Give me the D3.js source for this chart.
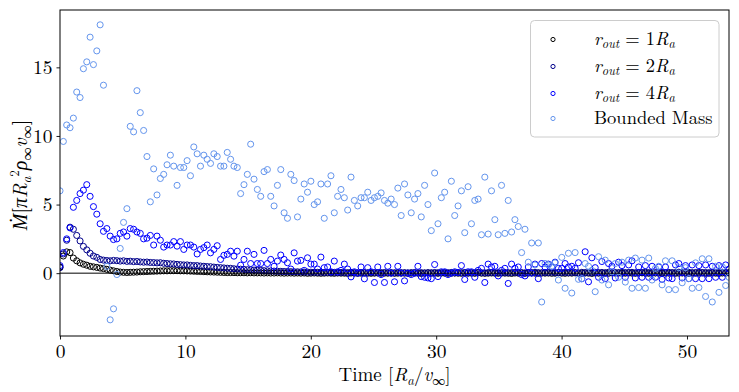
<!DOCTYPE html>
<html><head><meta charset="utf-8">
<script src="https://cdnjs.cloudflare.com/ajax/libs/d3/7.8.5/d3.min.js"></script>
<style>html,body{margin:0;padding:0;background:#fff;} svg{display:block;}</style>
</head><body><svg id="c" width="739" height="392"></svg>
<script>
// ---------- data ----------
const tMax = 53.35;
const nSamples = 201;
const xTicks = [0, 10, 20, 30, 40, 50];
const yTicks = [0, 5, 10, 15];
const seriesLabels = ["r_out = 1R_a", "r_out = 2R_a", "r_out = 4R_a", "Bounded Mass"];
const seriesColors = ["#000000", "#00008b", "#0000ff", "#6495ed"];

const rOut1 = [
0.45,1.25,1.55,1.5,1.1,0.9,0.75,0.65,0.58,0.5,
0.46,0.42,0.37,0.33,0.28,0.22,0.17,0.12,0.08,0.06,
0.05,0.06,0.07,0.08,0.1,0.11,0.12,0.13,0.14,0.15,
0.16,0.17,0.17,0.18,0.18,0.18,0.17,0.17,0.16,0.15,
0.14,0.13,0.12,0.11,0.1,0.09,0.08,0.07,0.06,0.05,
0.04,
0.04,0.04,0.03,0.03,0.03,0.02,0.03,0.02,0.02,0.02,
0.01,0.02,0.01,0.01,0.02,0.01,0.00,0.01,0.01,0.00,
0.01,0.00,0.01,-0.01,0.00,0.01,0.00,-0.01,0.00,0.01,
0.00,-0.01,0.01,0.00,0.00,-0.02,0.01,0.00,-0.01,0.00,
0.01,0.00,-0.01,0.00,0.01,-0.01,0.00,0.00,0.01,-0.01,
0.00,0.01,0.00,-0.01,0.00,0.01,0.00,-0.02,0.00,0.01,
0.00,0.00,-0.01,0.01,0.00,-0.01,0.00,0.01,0.00,-0.01,
0.01,0.00,0.00,-0.01,0.02,0.00,-0.01,0.00,0.01,0.00,
-0.01,0.01,0.00,0.00,-0.02,0.01,0.00,0.01,-0.01,0.00,
0.02,0.00,-0.01,0.01,0.00,0.01,-0.01,0.00,0.02,0.00,
-0.01,0.01,0.00,0.02,-0.01,0.00,0.01,0.00,-0.02,0.01,
0.00,0.01,0.00,-0.01,0.02,0.00,0.01,-0.01,0.00,0.01,
0.00,-0.01,0.01,0.02,0.00,-0.01,0.00,0.01,0.00,-0.01,
0.01,0.00,0.02,-0.01,0.00,0.01,0.00,-0.01,0.01,0.00,
0.00,0.02,-0.01,0.00,0.01,0.00,-0.02,0.01,0.00,0.01
];

const rOut2 = [
0.4,1.4,2.4,3.35,3.2,2.75,2.35,1.95,1.7,1.45,
1.25,1.15,1.0,0.95,0.92,0.9,0.93,0.91,0.88,0.9,
0.86,0.87,0.84,0.85,0.82,0.8,0.81,0.78,0.77,0.75,
0.76,0.72,0.7,0.68,0.67,0.64,0.62,0.6,0.6,0.57,
0.55,0.55,0.52,0.5,0.48,0.47,0.44,0.42,0.4,0.38,
0.36,0.35,0.32,0.3,0.29,0.27,0.25,0.24,0.22,0.21,
0.2,0.18,0.17,0.16,0.15,0.14,0.13,0.12,0.12,0.11,
0.1,0.1,0.09,0.08,0.08,0.07,
0.07,0.06,0.07,0.05,0.06,
0.05,0.06,0.04,0.05,0.05,0.04,0.06,0.04,0.03,0.05,
0.04,0.03,0.05,0.04,0.03,0.04,0.05,0.03,0.04,0.03,
0.05,0.03,0.04,0.02,0.04,0.05,0.03,0.04,0.02,0.04,
0.03,0.05,0.03,0.02,0.04,0.03,0.05,0.02,0.03,0.04,
0.05,0.02,0.04,0.03,0.06,0.03,0.02,0.04,0.05,0.03,
0.04,0.02,0.05,0.03,0.04,0.06,0.03,0.04,0.02,0.05,
0.03,0.06,0.04,0.02,0.05,0.04,0.07,0.03,0.05,0.04,
0.06,0.03,0.05,0.04,0.02,0.06,0.04,0.05,0.03,0.06,
0.04,0.05,0.03,0.07,0.04,0.05,0.03,0.06,0.04,0.05,
0.06,0.03,0.05,0.04,0.07,0.04,0.05,0.03,0.06,0.05,
0.04,0.06,0.03,0.05,0.07,0.04,0.05,0.06,0.03,0.05,
0.06,0.04,0.05,0.03,0.06,0.05,0.04,0.07,0.05,0.04
];

const rOut4 = [
0.55,1.5,2.5,3.3,4.8,5.3,5.8,6.05,6.45,5.6,
4.85,4.3,3.6,3.05,3.25,2.7,2.45,2.5,2.9,3.0,
2.7,3.25,3.2,3.0,2.9,2.5,2.55,2.75,2.05,2.7,
2.4,1.9,2.05,2.05,2.3,1.97,2.3,1.73,2.05,2.05,
1.9,1.4,1.73,1.86,2.05,1.48,1.73,2.0,1.0,1.3,
1.37,1.6,1.24,1.6,0.58,1.0,1.6,0.7,1.37,0.7,
0.7,1.66,0.7,1.0,0.5,0.88,1.32,1.0,0.76,0.3,
1.48,0.88,0.93,0.2,1.12,0.66,0.66,0.3,1.17,0.4,
0.45,0.1,0.88,0.1,0.2,0.66,0.3,-0.27,0.1,0.0,
0.45,-0.41,0.4,0.1,-0.68,0.45,-0.1,-0.68,0.5,0.0,
-0.63,0.5,0.0,-0.56,0.0,-0.1,0.0,0.5,-0.25,-0.3,
-0.35,-0.4,0.63,-0.25,0.1,0.1,-0.1,0.0,0.1,0.05,
0.55,-0.46,0.1,0.1,-0.3,0.2,0.35,-0.68,0.66,0.45,
0.5,-0.2,0.2,0.35,-0.75,0.66,0.35,0.45,-0.1,-0.2,
0.45,0.0,0.66,-0.4,0.7,0.45,0.66,0.45,0.8,0.35,
0.35,0.7,0.45,0.5,0.35,0.76,-0.41,1.56,-0.63,1.12,
0.4,-0.3,0.85,-0.4,0.7,0.5,-0.35,0.8,0.55,-0.3,
0.6,0.9,-0.35,0.45,-0.3,0.55,-0.3,0.5,-0.3,0.45,
-0.45,0.45,-0.35,-0.4,0.6,0.7,-0.35,0.55,-0.4,0.6,
-0.4,0.55,-0.4,0.6,-0.4,0.5,-0.3,0.55,-0.3,0.6,
0.3
];

const boundedMass = [
6.0,9.6,10.8,10.6,11.3,13.2,12.8,14.9,15.4,17.2,
15.2,16.2,18.1,13.7,0.5,-3.4,-2.6,-0.1,1.8,3.7,
4.7,10.7,10.3,13.3,11.7,10.4,8.5,5.2,7.6,5.7,
6.9,7.2,7.9,8.6,7.8,6.4,7.7,7.7,8.2,7.1,
9.2,8.7,7.8,8.6,8.3,8.0,8.7,8.5,7.8,7.8,
8.8,8.3,7.8,7.7,5.8,6.45,7.2,9.4,6.85,6.1,
5.6,7.4,7.55,5.6,4.9,6.4,7.55,4.4,4.0,7.2,
6.75,4.1,5.4,6.5,5.9,6.7,5.0,5.2,6.5,4.0,
6.5,7.1,4.4,5.6,6.1,5.5,4.6,7.0,5.3,4.9,
5.5,5.5,5.9,5.3,5.5,5.6,5.85,5.3,5.1,5.4,
5.0,6.2,4.2,6.5,5.7,4.4,5.4,5.8,4.1,6.4,
5.0,3.1,7.3,3.6,5.5,5.9,2.5,6.7,4.2,4.9,
6.0,2.95,6.3,3.6,5.3,5.4,2.8,7.0,2.85,6.0,
3.9,2.8,6.4,2.9,5.3,3.0,3.9,3.4,1.5,3.2,
0.8,2.2,0.6,2.2,-2.1,0.7,0.6,0.5,0.75,-0.5,
1.15,-1.1,1.45,-1.45,1.5,-0.45,-0.4,0.7,0.5,0.2,
-1.35,1.2,-0.5,0.95,-0.85,0.1,0.7,-0.3,0.8,-0.65,
0.95,-1.1,1.1,-1.05,0.95,-1.1,1.1,-0.5,0.35,0.5,
-0.85,0.9,-1.2,0.9,-1.2,0.4,-0.7,0.4,-0.4,-1.1,
0.75,-1.05,1.05,-1.7,1.05,-2.1,0.5,-1.4,0.45,-0.9,
-0.3
];

const allSeries = [rOut1, rOut2, rOut4, boundedMass];
allSeries.forEach((s, k) => { if (s.length !== nSamples) throw new Error("series " + k + " has " + s.length); });
const times = d3.range(nSamples).map(i => i * tMax / (nSamples - 1));

// ---------- layout ----------
const svg = d3.select("#c");
const L = 60, R = 729, T = 10, B = 336;
const x = d3.scaleLinear().domain([0, tMax]).range([L, R]);
const y = d3.scaleLinear().domain([-4.58, 19.18]).range([B, T]);
const FONT = '"Latin Modern Roman","Liberation Serif",serif';
const DOTFONT = '"Liberation Serif",serif';

svg.append("rect").attr("width", 739).attr("height", 392).attr("fill", "#fff");
svg.append("defs").append("clipPath").attr("id", "plotclip")
  .append("rect").attr("x", L).attr("y", T).attr("width", R - L).attr("height", B - T);

const pts = svg.append("g").attr("clip-path", "url(#plotclip)");
allSeries.forEach((s, k) => {
  pts.append("g").selectAll("circle").data(s).join("circle")
    .attr("cx", (d, i) => x(times[i]))
    .attr("cy", d => y(d))
    .attr("r", 3.05)
    .attr("fill", "none")
    .attr("stroke", seriesColors[k])
    .attr("stroke-width", 1);
});

// zero line
svg.append("line").attr("x1", L).attr("x2", R).attr("y1", y(0)).attr("y2", y(0))
  .attr("stroke", "#000").attr("stroke-width", 1);

// axes
const gx = svg.append("g").attr("transform", `translate(0,${B})`)
  .call(d3.axisBottom(x).tickValues(xTicks).tickSize(3.5).tickPadding(5).tickFormat(d3.format("d")));
const gy = svg.append("g").attr("transform", `translate(${L},0)`)
  .call(d3.axisLeft(y).tickValues(yTicks).tickSize(3.5).tickPadding(4).tickFormat(d3.format("d")));
[gx, gy].forEach(g => {
  g.attr("font-family", null).attr("font-size", null);
  g.select(".domain").remove();
  g.selectAll(".tick line").attr("stroke", "#000").attr("stroke-width", 0.9);
  g.selectAll(".tick text").attr("fill", "#000")
    .style("font-family", FONT).style("font-size", "19.5px");
});

// frame
svg.append("rect").attr("x", L).attr("y", T).attr("width", R - L).attr("height", B - T)
  .attr("fill", "none").attr("stroke", "#000").attr("stroke-width", 1);

// math-like text helper
function mathText(sel, parts, size) {
  let cur = 0;
  parts.forEach(p => {
    const sh = p.sh || 0;
    const ts = sel.append("tspan").text(p.t)
      .attr("dy", sh - cur)
      .style("font-size", (p.s || size) + "px")
      .style("font-style", p.i ? "italic" : "normal");
    if (p.f) ts.style("font-family", p.f);
    cur = sh;
  });
}

// x label
const xl = svg.append("text").attr("x", (L + R) / 2).attr("y", 381)
  .attr("text-anchor", "middle").style("font-family", FONT).attr("fill", "#000");
mathText(xl, [
  {t: "Time ["}, {t: "R", i: true}, {t: "a", i: true, s: 13, sh: 4},
  {t: "/", sh: 0}, {t: "v", i: true}, {t: "\u221E", s: 13, sh: 4}, {t: "]", sh: 0}
], 19);

// y label
const yl = svg.append("text").attr("transform", "translate(27,175) rotate(-90)")
  .attr("text-anchor", "middle").style("font-family", FONT).attr("fill", "#000");
mathText(yl, [
  {t: "\u1E40", i: true, f: DOTFONT}, {t: "["}, {t: "\u03C0", i: true}, {t: "R", i: true},
  {t: "a", i: true, s: 13, sh: 4}, {t: "2", s: 13, sh: -8}, {t: "\u03C1", i: true, sh: 0},
  {t: "\u221E", s: 13, sh: 4}, {t: "v", i: true, sh: 0}, {t: "\u221E", s: 13, sh: 4}, {t: "]", sh: 0}
], 20);

// legend
const lg = svg.append("g");
lg.append("rect").attr("x", 530.5).attr("y", 20.5).attr("width", 188.5).attr("height", 116.5)
  .attr("rx", 4).attr("fill", "#fff").attr("fill-opacity", 0.8).attr("stroke", "#cccccc").attr("stroke-width", 1);
const rowY = [39.5, 66.5, 93.5, 118.5];
seriesLabels.forEach((lab, k) => {
  lg.append("circle").attr("cx", 553).attr("cy", rowY[k]).attr("r", 2.1)
    .attr("fill", "none").attr("stroke", seriesColors[k]).attr("stroke-width", 1);
  const tx = lg.append("text").attr("x", 594).attr("y", rowY[k] + 5)
    .style("font-family", FONT).attr("fill", "#000");
  if (k < 3) {
    const num = lab.split("= ")[1].replace("R_a", "");
    mathText(tx, [
      {t: "r", i: true}, {t: "out", i: true, s: 12.5, sh: 3.5},
      {t: " = " + num, sh: 0}, {t: "R", i: true}, {t: "a", i: true, s: 12.5, sh: 3.5}
    ], 18.5);
  } else {
    mathText(tx, [{t: lab}], 18.5);
  }
});
</script></body></html>
